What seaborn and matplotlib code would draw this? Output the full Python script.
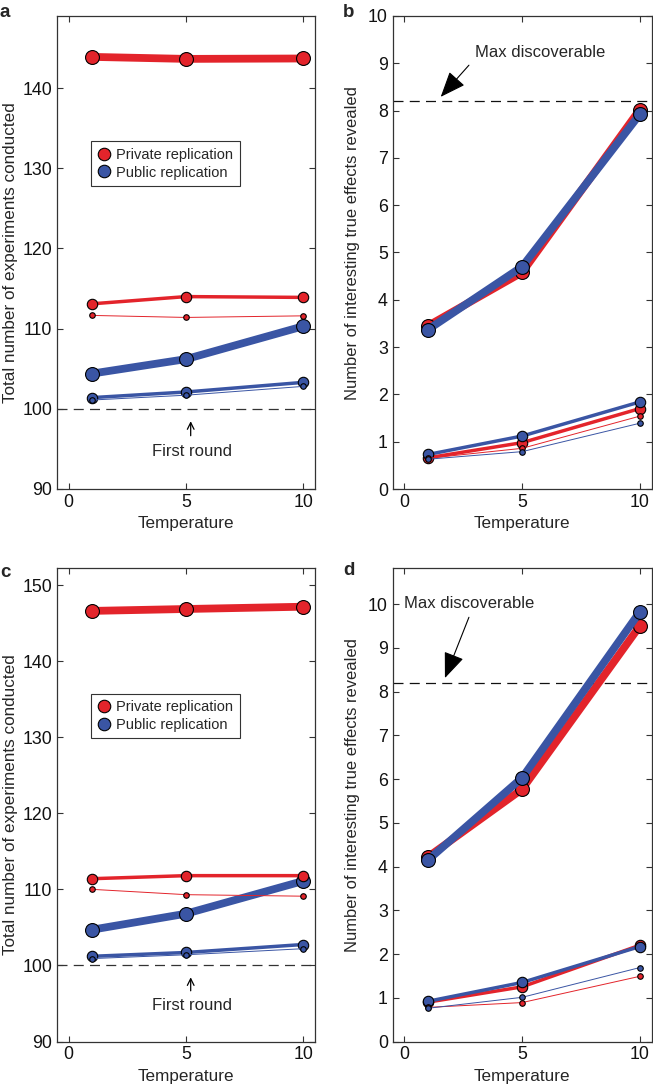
import matplotlib
matplotlib.use("Agg")

import pandas as pd
import matplotlib.pyplot as plt
import seaborn as sns
from matplotlib.lines import Line2D

# ── Data ──────────────────────────────────────────────────────────────────────
TEMPS = [1, 5, 10]
LEVELS = ["thick", "medium", "thin"]
SCHEMES = ["Private replication", "Public replication"]

# each tuple: thick, medium, thin series
a_private = ([143.9, 143.65, 143.7], [113.1, 114.0, 113.9], [111.65, 111.4, 111.6])
a_public = ([104.4, 106.2, 110.3], [101.4, 102.1, 103.3], [101.1, 101.7, 102.8])
b_private = ([3.45, 4.58, 8.02], [0.66, 0.98, 1.70], [0.65, 0.86, 1.54])
b_public = ([3.37, 4.70, 7.92], [0.73, 1.12, 1.84], [0.63, 0.79, 1.39])
c_private = ([146.6, 146.85, 147.15], [111.4, 111.8, 111.8], [110.0, 109.3, 109.1])
c_public = ([104.7, 106.8, 111.1], [101.2, 101.7, 102.75], [100.9, 101.4, 102.2])
d_private = ([4.22, 5.77, 9.50], [0.90, 1.25, 2.20], [0.78, 0.89, 1.49])
d_public = ([4.15, 6.03, 9.82], [0.92, 1.35, 2.17], [0.76, 1.01, 1.69])

FIRST_ROUND = 100
MAX_DISCOVERABLE = 8.2

# ── Style ─────────────────────────────────────────────────────────────────────
sns.set_style("ticks")
plt.rcParams.update({
    "font.family": ["Liberation Sans", "DejaVu Sans"],
    "font.size": 12,
    "axes.labelsize": 12.3,
    "axes.edgecolor": "#333333",
    "axes.linewidth": 0.9,
    "xtick.direction": "in",
    "ytick.direction": "in",
    "xtick.top": True,
    "ytick.right": True,
    "xtick.color": "#333333",
    "ytick.color": "#333333",
    "xtick.labelcolor": "#111111",
    "ytick.labelcolor": "#111111",
    "xtick.major.size": 4,
    "ytick.major.size": 4,
    "xtick.labelsize": 12.8,
    "ytick.labelsize": 12.8,
})

RED = "#E3242B"
BLUE = "#3A55A4"
COLORS = {SCHEMES[0]: RED, SCHEMES[1]: BLUE}
LW = {"thick": 5.6, "medium": 2.5, "thin": 0.7}
MS = {"thick": 10, "medium": 7.5, "thin": 4}


def to_long(private, public):
    rows = []
    for scheme, series in zip(SCHEMES, (private, public)):
        for level, vals in zip(LEVELS, series):
            for t, v in zip(TEMPS, vals):
                rows.append({"scheme": scheme, "level": level,
                             "temperature": t, "value": v})
    return pd.DataFrame(rows)


def draw_series(ax, df):
    for level in LEVELS:
        for scheme in SCHEMES:
            sub = df[(df.level == level) & (df.scheme == scheme)]
            sns.lineplot(data=sub, x="temperature", y="value", ax=ax,
                         color=COLORS[scheme], lw=LW[level], marker="o",
                         markersize=MS[level], markeredgecolor="black",
                         markeredgewidth=0.8, legend=False, errorbar=None,
                         clip_on=False)


def style_axes(ax, ylim, yticks, ylabel, label_xy, label_size):
    ax.set_xlim(-0.5, 10.5)
    ax.set_ylim(*ylim)
    ax.set_xticks([0, 5, 10])
    ax.set_yticks(yticks)
    ax.set_xlabel("Temperature", labelpad=4)
    ax.set_ylabel(ylabel, fontsize=label_size)
    ax.yaxis.set_label_coords(*label_xy)
    for s in ax.spines.values():
        s.set_visible(True)


def add_legend(ax):
    handles = [Line2D([], [], ls="", marker="o", color=COLORS[s],
                      markeredgecolor="black", markeredgewidth=0.8, ms=9)
               for s in SCHEMES]
    leg = ax.legend(handles, SCHEMES, loc="upper left",
                    bbox_to_anchor=(0.13, 0.735), borderaxespad=0,
                    fontsize=10.5, frameon=True, fancybox=False,
                    framealpha=1, edgecolor="#333333", handlelength=0.9,
                    handletextpad=0.4, borderpad=0.45, labelspacing=0.25)
    leg.get_frame().set_linewidth(0.8)


def total_panel(ax, private, public, ylim, yticks):
    ax.axhline(FIRST_ROUND, color="#333333", lw=0.9, dashes=(8, 5), zorder=1)
    draw_series(ax, to_long(private, public))
    style_axes(ax, ylim, yticks, "Total number of experiments conducted",
               (-0.152, 0.5), 12.3)
    ax.annotate("", xy=(5.2, FIRST_ROUND - 1.2), xytext=(5.2, FIRST_ROUND - 3.7),
                arrowprops=dict(arrowstyle="->", lw=0.9, color="black",
                                mutation_scale=12))
    ax.text(5.25, FIRST_ROUND - 5.3, "First round", ha="center", va="center",
            fontsize=12)
    add_legend(ax)


def effects_panel(ax, private, public, ylim, text_xy, tail_xy, head_xy):
    ax.axhline(MAX_DISCOVERABLE, color="#111111", lw=0.9, dashes=(8, 5), zorder=1)
    draw_series(ax, to_long(private, public))
    style_axes(ax, ylim, range(0, 11),
               "Number of interesting true effects revealed",
               (-0.127, 0.52), 11.85)
    ax.text(*text_xy, "Max discoverable", ha="center", va="center",
            fontsize=12)
    ax.annotate("", xy=head_xy, xytext=tail_xy,
                arrowprops=dict(arrowstyle="-|>,head_length=1.0,head_width=0.4",
                                lw=0.8, color="black", mutation_scale=16,
                                shrinkA=0, shrinkB=0))


# ── Figure ────────────────────────────────────────────────────────────────────
fig = plt.figure(figsize=(6.53, 10.84), dpi=100)
W, H = 653, 1084


def axes_px(left, top, right, bottom):
    return fig.add_axes([left / W, 1 - bottom / H, (right - left) / W,
                         (bottom - top) / H])


ax_a = axes_px(57, 16, 315, 489)
ax_b = axes_px(392.7, 16, 651.5, 489)
ax_c = axes_px(57, 568.3, 315, 1041.5)
ax_d = axes_px(392.7, 568.3, 651.5, 1041.5)

total_panel(ax_a, a_private, a_public, (90, 149), range(90, 141, 10))
total_panel(ax_c, c_private, c_public, (90, 152.2), range(90, 151, 10))
effects_panel(ax_b, b_private, b_public, (0, 10),
              (5.75, 9.23), (2.74, 8.96), (1.54, 8.29))
effects_panel(ax_d, d_private, d_public, (0, 10.82),
              (2.74, 10.02), (2.74, 9.70), (1.72, 8.31))

for lbl, (x, y) in zip("abcd", [(0, 4), (343, 4), (0, 564), (343, 562)]):
    fig.text(x / W, 1 - y / H, lbl, fontsize=13.5, fontweight="bold",
             ha="left", va="top")

fig.savefig("out.png", dpi=100)
